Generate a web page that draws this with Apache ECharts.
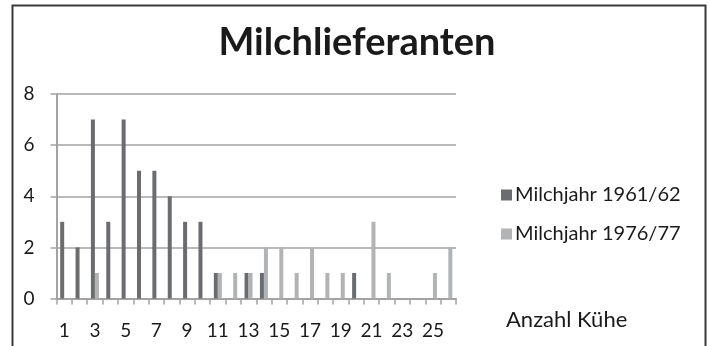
<!DOCTYPE html>
<html>
<head>
<meta charset="utf-8">
<script src="https://cdn.jsdelivr.net/npm/echarts@6/dist/echarts.min.js"></script>
<style>
  html, body { margin: 0; padding: 0; background: #fff; }
  #chart { width: 710px; height: 346px; }
</style>
</head>
<body>
<div id="chart"></div>
<script>
// Herd sizes (number of cows per supplier)
const categories = ['1','2','3','4','5','6','7','8','9','10','11','12','13',
                    '14','15','16','17','18','19','20','21','22','23','24','25','26'];
// Number of milk suppliers per herd size
const suppliers1961 = [3,2,7,3,7,5,5,4,3,3,1,0,1,1,0,0,0,0,0,1,0,0,0,0,0,0];
const suppliers1976 = [0,0,1,0,0,0,0,0,0,0,1,1,1,2,2,1,2,1,1,0,3,1,0,0,1,2];
const seriesNames = ['Milchjahr 1961/62', 'Milchjahr 1976/77'];
const titleText = 'Milchlieferanten';
const axisTitle = 'Anzahl Kühe';

const FONT = 'Lato, "Open Sans", sans-serif';
const chart = echarts.init(document.getElementById('chart'));

chart.setOption({
  animation: false,
  backgroundColor: '#ffffff',
  textStyle: { fontFamily: FONT },
  title: {
    text: titleText,
    left: 352,
    textAlign: 'center',
    top: 19,
    textStyle: { fontFamily: FONT, fontSize: 38, fontWeight: 'bold', color: '#1a1a1a' }
  },
  legend: {
    orient: 'vertical',
    left: 496,
    top: 179,
    itemWidth: 11,
    itemHeight: 11,
    itemGap: 17,
    icon: 'rect',
    textStyle: { fontFamily: FONT, fontSize: 20, color: '#1a1a1a', lineHeight: 22, padding: [0, 0, 0, -2] },
    data: seriesNames
  },
  grid: { left: 56.5, right: 254, top: 94, bottom: 47.5, containLabel: false },
  xAxis: {
    type: 'category',
    data: categories,
    boundaryGap: true,
    axisLine: { show: true, lineStyle: { color: '#a3a3a3', width: 2 } },
    axisTick: { show: true, alignWithLabel: false, interval: 0, length: 6, lineStyle: { color: '#a3a3a3', width: 1.5 } },
    axisLabel: { interval: 1, margin: 23, fontFamily: FONT, fontSize: 19, color: '#1a1a1a' },
    splitLine: { show: false }
  },
  yAxis: {
    type: 'value',
    min: 0,
    max: 8,
    interval: 2,
    axisLine: { show: true, lineStyle: { color: '#a3a3a3', width: 2 } },
    axisTick: { show: true, length: 6, lineStyle: { color: '#a3a3a3', width: 1.5 } },
    axisLabel: { margin: 22, fontFamily: FONT, fontSize: 19, color: '#1a1a1a' },
    splitLine: { show: true, lineStyle: { color: '#a3a3a3', width: 1.5 } }
  },
  series: [
    {
      name: seriesNames[0],
      type: 'bar',
      data: suppliers1961,
      barWidth: 4,
      barGap: '0%',
      itemStyle: { color: '#6b6c6f' }
    },
    {
      name: seriesNames[1],
      type: 'bar',
      data: suppliers1976,
      barWidth: 4,
      barGap: '0%',
      itemStyle: { color: '#b2b3b5' }
    }
  ],
  graphic: [
    {
      type: 'rect',
      shape: { x: 12.5, y: 5.5, width: 693, height: 400 },
      style: { fill: 'none', stroke: '#3a3a3a', lineWidth: 2 },
      silent: true
    },
    {
      type: 'text',
      left: 506,
      top: 309,
      style: { text: axisTitle, font: '22px ' + FONT, fill: '#1a1a1a' }
    }
  ]
});
</script>
</body>
</html>
